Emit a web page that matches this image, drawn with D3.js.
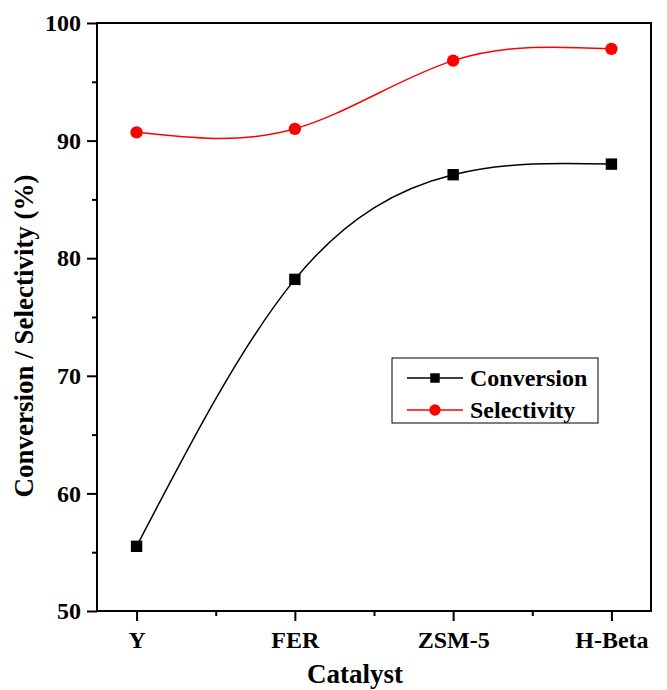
<!DOCTYPE html>
<html>
<head>
<meta charset="utf-8">
<script src="https://cdn.jsdelivr.net/npm/d3@7"></script>
<style>
  body { margin: 0; background: #fff; }
  text { font-family: "Liberation Serif", "Times New Roman", serif; font-weight: bold; }
</style>
</head>
<body>
<svg id="chart" width="667" height="690"></svg>
<script>
// data
var catalysts = ["Y", "FER", "ZSM-5", "H-Beta"];
var conversion = [55.5, 78.2, 87.1, 88.0];
var selectivity = [90.7, 91.0, 96.8, 97.8];
var yTicks = [50, 60, 70, 80, 90, 100];

var margin = { top: 23, right: 16, bottom: 79, left: 97 },
  width = 667 - margin.left - margin.right,
  height = 690 - margin.top - margin.bottom;

var svg = d3.select("#chart");
var g = svg.append("g")
  .attr("transform", "translate(" + margin.left + "," + margin.top + ")");

// x is category index with a quarter step of padding each side
var x = d3.scaleLinear().domain([-0.25, 3.25]).range([0, width]);
var y = d3.scaleLinear().domain([50, 100]).range([height, 0]);

// minor ticks first
g.append("g")
  .attr("transform", "translate(0," + height + ")")
  .call(d3.axisBottom(x).tickValues([0.5, 1.5, 2.5]).tickSize(5).tickFormat(""))
  .call(function (a) { a.select(".domain").remove(); });
g.append("g")
  .call(d3.axisLeft(y).tickValues([55, 65, 75, 85, 95]).tickSize(5).tickFormat(""))
  .call(function (a) { a.select(".domain").remove(); });

// x axis
var xAxis = g.append("g")
  .attr("transform", "translate(0," + height + ")")
  .call(d3.axisBottom(x).tickValues([0, 1, 2, 3]).tickSize(10).tickPadding(10)
    .tickFormat(function (d) { return catalysts[d]; }));
xAxis.select(".domain").remove();
xAxis.selectAll("text").style("font-size", "24px").attr("fill", "#000");

// y axis
var yAxis = g.append("g")
  .call(d3.axisLeft(y).tickValues(yTicks).tickSize(10).tickPadding(6));
yAxis.select(".domain").remove();
yAxis.selectAll("text").style("font-size", "24px").attr("fill", "#000");

g.selectAll(".tick line").attr("stroke", "#000").attr("stroke-width", 2);

// frame
g.append("rect")
  .attr("width", width).attr("height", height)
  .attr("fill", "none").attr("stroke", "#000").attr("stroke-width", 2);

// series
var series = [
  { name: "Conversion", values: conversion, color: "#000000", shape: d3.symbolSquare },
  { name: "Selectivity", values: selectivity, color: "#ff0000", shape: d3.symbolCircle }
];

var line = d3.line()
  .x(function (d, i) { return x(i); })
  .y(function (d) { return y(d); })
  .curve(d3.curveNatural);

series.forEach(function (s) {
  g.append("path")
    .datum(s.values)
    .attr("fill", "none")
    .attr("stroke", s.color)
    .attr("stroke-width", 1.5)
    .attr("d", line);

  g.selectAll(null)
    .data(s.values)
    .enter()
    .append("path")
    .attr("transform", function (d, i) { return "translate(" + x(i) + "," + y(d) + ")"; })
    .attr("d", d3.symbol().type(s.shape).size(s.shape === d3.symbolSquare ? 130 : 120))
    .attr("fill", s.color);
});

// legend
var legend = svg.append("g").attr("transform", "translate(392,358)");
legend.append("rect")
  .attr("width", 206).attr("height", 65)
  .attr("fill", "#fff").attr("stroke", "#000").attr("stroke-width", 1);
series.forEach(function (s, i) {
  var ly = 20 + i * 32;
  legend.append("line")
    .attr("x1", 15).attr("x2", 71).attr("y1", ly).attr("y2", ly)
    .attr("stroke", s.color).attr("stroke-width", 1.5);
  legend.append("path")
    .attr("transform", "translate(43," + ly + ")")
    .attr("d", d3.symbol().type(s.shape).size(s.shape === d3.symbolSquare ? 90 : 100))
    .attr("fill", s.color);
  legend.append("text")
    .attr("x", 78).attr("y", ly + 8)
    .style("font-size", "24px")
    .text(s.name);
});

// axis titles
svg.append("text")
  .attr("x", 355).attr("y", 683)
  .attr("text-anchor", "middle")
  .style("font-size", "27px")
  .text("Catalyst");

svg.append("text")
  .attr("transform", "translate(33,336) rotate(-90)")
  .attr("text-anchor", "middle")
  .style("font-size", "27px")
  .text("Conversion / Selectivity (%)");
</script>
</body>
</html>
